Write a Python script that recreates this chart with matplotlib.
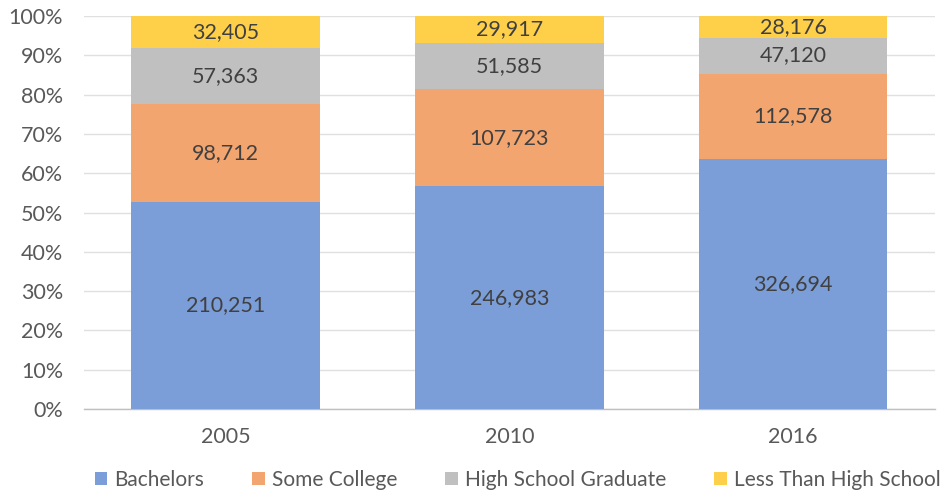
import matplotlib
matplotlib.use("Agg")
import matplotlib.pyplot as plt
import numpy as np
from matplotlib.ticker import PercentFormatter

years = ["2005", "2010", "2016"]
series_names = ["Bachelors", "Some College", "High School Graduate", "Less Than High School"]
bachelors = [210251, 246983, 326694]
some_college = [98712, 107723, 112578]
hs_grad = [57363, 51585, 47120]
less_hs = [32405, 29917, 28176]
colors = ["#7B9ED8", "#F3A56F", "#C0C0C0", "#FED04A"]

plt.rcParams['font.family'] = ['Lato', 'DejaVu Sans']

data = np.array([bachelors, some_college, hs_grad, less_hs], dtype=float)
totals = data.sum(axis=0)
pct = data / totals

fig = plt.figure(figsize=(9.43, 4.95), dpi=100)
ax = fig.add_axes([0.089, 0.1737, 0.9025, 0.794])
x = np.arange(len(years))
bottom = np.zeros(len(years))
for i, name in enumerate(series_names):
    ax.bar(x, pct[i], 0.665, bottom=bottom, color=colors[i], label=name, zorder=3)
    for j in range(len(years)):
        ax.text(x[j], bottom[j] + pct[i][j] / 2, f"{int(data[i][j]):,}",
                ha="center", va="center", fontsize=15.5, color="#404040", zorder=4)
    bottom += pct[i]

ax.set_xlim(-0.5, 2.5)
ax.set_ylim(0, 1)
ax.set_yticks(np.arange(0, 1.01, 0.1))
ax.yaxis.set_major_formatter(PercentFormatter(1.0, decimals=0))
ax.set_xticks(x)
ax.set_xticklabels(years)
ax.grid(axis="y", color="#E0E0E0", linewidth=1, zorder=0)
for s in ["top", "right", "left"]:
    ax.spines[s].set_visible(False)
ax.spines["bottom"].set_color("#BFBFBF")
ax.spines["bottom"].set_linewidth(1)
ax.tick_params(axis="both", length=0, labelsize=15.5, colors="#595959")
ax.tick_params(axis="x", pad=13)
ax.tick_params(axis="y", pad=15)

fig.legend(loc="center", bbox_to_anchor=(0.549, 0.03), ncol=4, frameon=False,
           fontsize=15, handlelength=0.6, handleheight=0.6, handletextpad=0.35,
           columnspacing=2.3, labelcolor="#595959", borderpad=0, borderaxespad=0)

fig.savefig("out.png", dpi=100)
